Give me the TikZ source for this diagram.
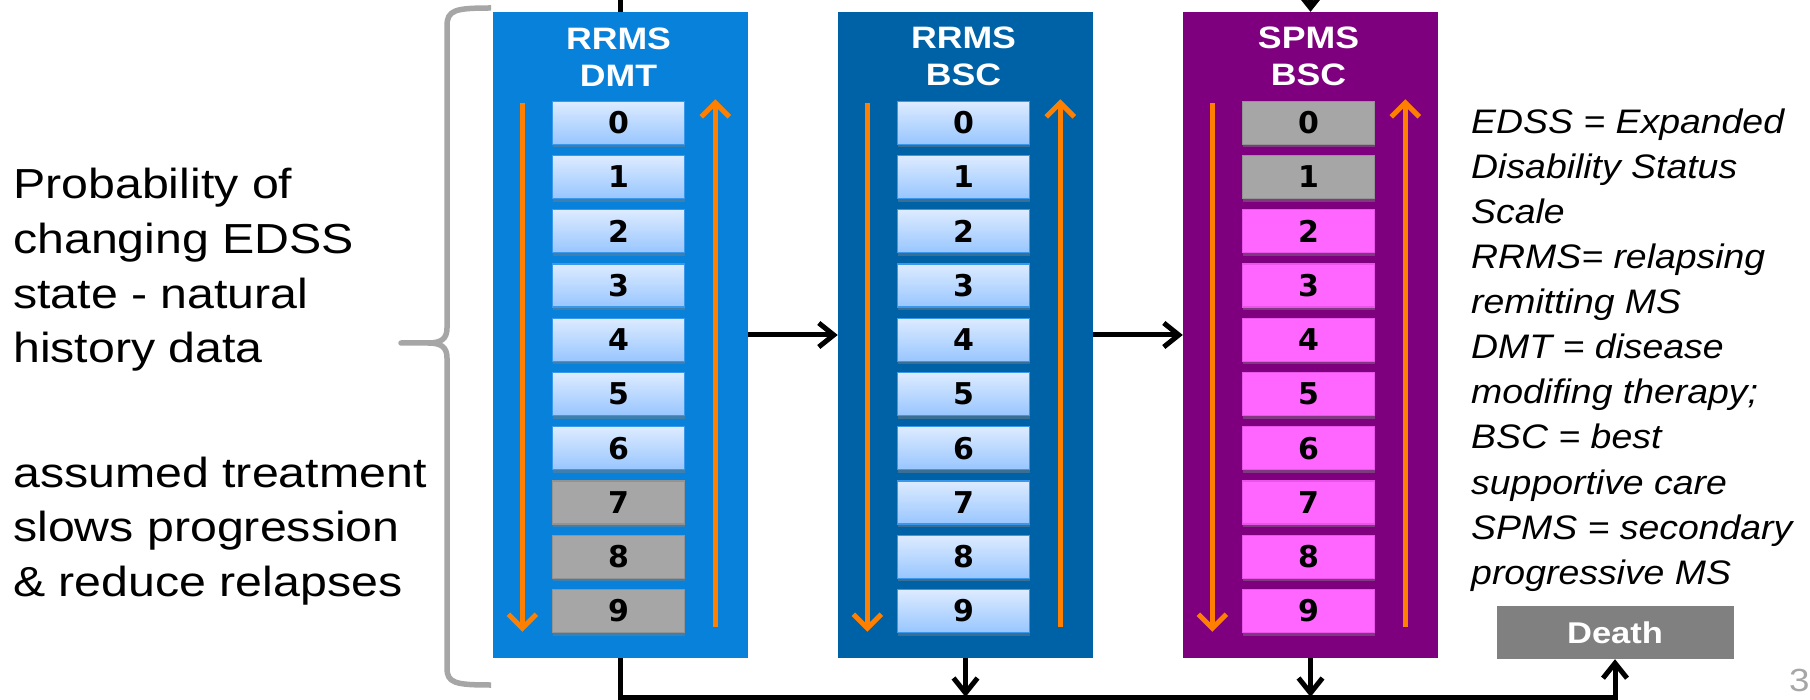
\documentclass[tikz,border=0pt]{standalone}
\usepackage{fontspec}
\setmainfont{Liberation Sans}
\newfontfamily\slidefont[FakeStretch=1.15]{Liberation Sans}
\newfontfamily\notefont[FakeStretch=1.1]{Liberation Sans}
\newfontfamily\headfont[FakeStretch=1.15]{Liberation Sans}
\newfontfamily\digitfont{DejaVu Sans}
\usetikzlibrary{arrows.meta,positioning,calc,shadows}
\definecolor{dmtblue}{HTML}{0781D9}
\definecolor{bscblue}{HTML}{0062A6}
\definecolor{spmspurple}{HTML}{7F007F}
\definecolor{boxtop}{HTML}{DDEBFF}
\definecolor{boxbot}{HTML}{98C6FF}
\definecolor{boxline}{HTML}{3A98EC}
\definecolor{gonegray}{HTML}{A6A6A6}
\definecolor{goneline}{HTML}{939393}
\definecolor{pinkbox}{HTML}{FF66FF}
\definecolor{pinkline}{HTML}{E855E8}
\definecolor{arrorange}{HTML}{FF8000}
\definecolor{deathgray}{HTML}{808080}
\definecolor{bracegray}{HTML}{A6A6A6}

\tikzset{
  panel/.style={minimum width=255pt, minimum height=646pt, inner sep=0pt},
  head/.style={text=white, align=center, inner sep=0pt, font=\headfont\bfseries\fontsize{31}{37}\selectfont},
  state/.style={minimum width=132pt, minimum height=43pt, inner sep=0pt, line width=1.2pt,
    font=\digitfont\bfseries\fontsize{30}{30}\selectfont,
    drop shadow={shadow xshift=0pt, shadow yshift=-3pt, opacity=.45}},
  live/.style={state, draw=boxline, top color=boxtop, bottom color=boxbot},
  gone/.style={state, draw=goneline, fill=gonegray},
  spms/.style={state, draw=pinkline, fill=pinkbox},
  updown/.style={draw=arrorange, line width=5pt, -{Straight Barb[length=14pt,width=28pt]}},
  flow/.style={line width=5pt, -{Straight Barb[length=15pt,width=24pt]}},
  death/.style={fill=deathgray, text=white, minimum width=237pt, minimum height=53pt, inner sep=0pt,
    font=\headfont\bfseries\fontsize{30}{30}\selectfont},
  brace/.style={draw=bracegray, line width=5.5pt, line join=round},
  lefttext/.style={anchor=west, align=left, inner sep=0pt, font=\slidefont\fontsize{42}{54.6}\selectfont},
  legend/.style={anchor=west, align=left, inner sep=0pt, font=\notefont\itshape\fontsize{34}{45.1}\selectfont},
}

\begin{document}
\begin{tikzpicture}[x=1pt, y=-1pt]
	\useasboundingbox (0,0) rectangle (1810,700);
	
	% the three health states
	\node[panel, fill=dmtblue] (A) at (620.5,335) {};
	\node[panel, fill=bscblue] (B) at (965.5,335) {};
	\node[panel, fill=spmspurple] (C) at (1310.5,335) {};
	
	\node[head] (Ah) at ($(A.north)+(-2,45)$) {RRMS\\DMT};
	\node[head] (Bh) at ($(B.north)+(-2,45)$) {RRMS\\BSC};
	\node[head] (Ch) at ($(C.north)+(-2,45)$) {SPMS\\BSC};
	
	% EDSS levels
	\foreach \i in {0,...,6} \node[live] (A\i) at ($(A.north)+(-2,111+54.25*\i)$) {\i};
	\foreach \i in {7,8,9} \node[gone] (A\i) at ($(A.north)+(-2,111+54.25*\i)$) {\i};
	\foreach \i in {0,...,9} \node[live] (B\i) at ($(B.north)+(-2,111+54.25*\i)$) {\i};
	\foreach \i in {0,1} \node[gone] (C\i) at ($(C.north)+(-2,111+54.25*\i)$) {\i};
	\foreach \i in {2,...,9} \node[spms] (C\i) at ($(C.north)+(-2,111+54.25*\i)$) {\i};
	
	\foreach \p in {A,B,C} {
		\draw[updown] ($(\p.north west)+(29.5,91.5)$) -- ($(\p.north west)+(29.5,620)$);
		\draw[updown] ($(\p.north west)+(222.5,615)$) -- ($(\p.north west)+(222.5,87.5)$);
	}
	
	\node[death] (D) at (1615,632.5) {Death};
	
	% transitions
	\draw[flow] (A.east) -- (B.west);
	\draw[flow] (B.east) -- (C.west);
	\coordinate (Z) at (620.5,697);
	\draw[flow] (A.south) -- (Z) -| (D.south);
	\draw[flow] (B.south) -- (B.south |- Z);
	\draw[flow] (C.south) -- (C.south |- Z);
	\coordinate (T) at (620.5,0);
	\coordinate (U) at (1310.5,0);
	\draw[line width=5pt] (A.north) -- (T);
	\draw[flow] (U) -- (C.north);
	
	% brace and notes
	\draw[brace] (491,8) .. controls (455,8) and (447,10) .. (447,26) -- (447,328)
		.. controls (447,339) and (441,343) .. (428,343) -- (401,343) -- (428,343)
		.. controls (441,343) and (447,347) .. (447,358) -- (447,668)
		.. controls (447,683) and (455,685) .. (491,685);
	
	\node[lefttext] (L1) at (13,270) {Probability of\\changing EDSS\\state - natural\\history data};
	\node[lefttext] (L2) at (13,531) {assumed treatment\\slows progression\\\& reduce relapses};
	
	\node[legend] (K) at (1471,350) {EDSS = Expanded\\Disability Status\\Scale\\RRMS= relapsing\\remitting MS\\DMT = disease\\modifing therapy;\\BSC = best\\supportive care\\SPMS = secondary\\progressive MS};
	
	\node[anchor=west, inner sep=0pt, text=gonegray, font=\slidefont\fontsize{32}{32}\selectfont] (N) at (1789,680) {3};
\end{tikzpicture}
\end{document}
